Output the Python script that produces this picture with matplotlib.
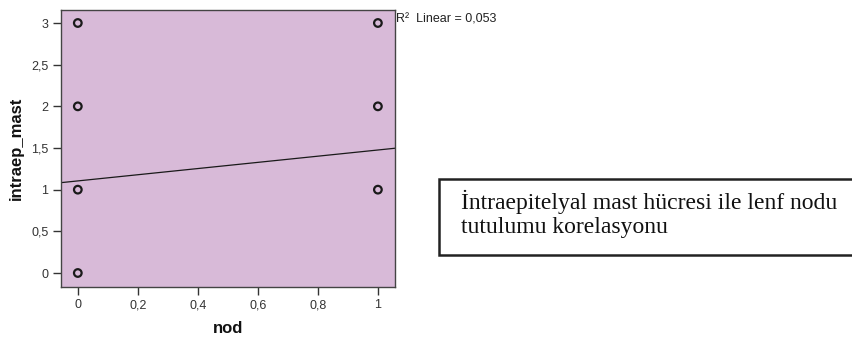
import matplotlib
matplotlib.use("Agg")
import matplotlib.pyplot as plt
from matplotlib.patches import Rectangle
import numpy as np

# data
nod = [0, 0, 0, 0, 1, 1, 1]
intraep_mast = [0, 1, 2, 3, 1, 2, 3]
fit_intercept = 1.105
fit_slope = 0.371
r2_text = "R²  Linear = 0,053"
x_ticks = [0, 0.2, 0.4, 0.6, 0.8, 1]
x_ticklabels = ["0", "0,2", "0,4", "0,6", "0,8", "1"]
y_ticks = [0, 0.5, 1, 1.5, 2, 2.5, 3]
y_ticklabels = ["0", "0,5", "1", "1,5", "2", "2,5", "3"]
caption = "İntraepitelyal mast hücresi ile lenf nodu\ntutulumu korelasyonu"

W, H = 853, 340
fig = plt.figure(figsize=(W / 100, H / 100), dpi=100)
fig.patch.set_facecolor("white")

L, R, T, B = 61, 395, 9.5, 287
ax = fig.add_axes([L / W, 1 - B / H, (R - L) / W, (B - T) / H])
ax.set_facecolor("#D8BAD8")
ax.set_xlim(-0.056, 1.057)
ax.set_ylim(-0.168, 3.162)

ax.scatter(nod, intraep_mast, s=30, facecolors="none", edgecolors="#1a1a1a",
           linewidths=1.6, zorder=3, clip_on=False)

xl = np.array(ax.get_xlim())
ax.plot(xl, fit_intercept + fit_slope * xl, color="#1a1a1a", lw=0.9, zorder=2)

ax.set_xticks(x_ticks)
ax.set_xticklabels(x_ticklabels)
ax.set_yticks(y_ticks)
ax.set_yticklabels(y_ticklabels)
ax.tick_params(axis="both", direction="out", length=6, width=1, color="#333333",
               labelsize=9, labelcolor="#333333", pad=3)
for lab in ax.get_xticklabels() + ax.get_yticklabels():
    lab.set_family("Liberation Sans")
for s in ax.spines.values():
    s.set_color("#444444")
    s.set_linewidth(1.0)

ax.set_xlabel("nod", fontsize=12, fontweight="bold", family="Liberation Sans",
              labelpad=7, color="#111111")
ax.set_ylabel("intraep_mast", fontsize=12, fontweight="bold", family="Liberation Sans",
              labelpad=5, color="#111111")

fig.text(396 / W, 1 - 20 / H, r2_text, fontsize=9, family="Liberation Sans",
         va="center", ha="left", color="#222222")

# caption box
fig.patches.append(Rectangle((439 / W, 1 - 255 / H), (870 - 439) / W, (255 - 179) / H,
                             transform=fig.transFigure, facecolor="white",
                             edgecolor="#222222", linewidth=1.8, clip_on=False))
fig.text(461 / W, 1 - 214 / H, caption, fontsize=17, family="Liberation Serif",
         va="center", ha="left", color="#111111", linespacing=1.2)

fig.savefig("out.png", dpi=100)
